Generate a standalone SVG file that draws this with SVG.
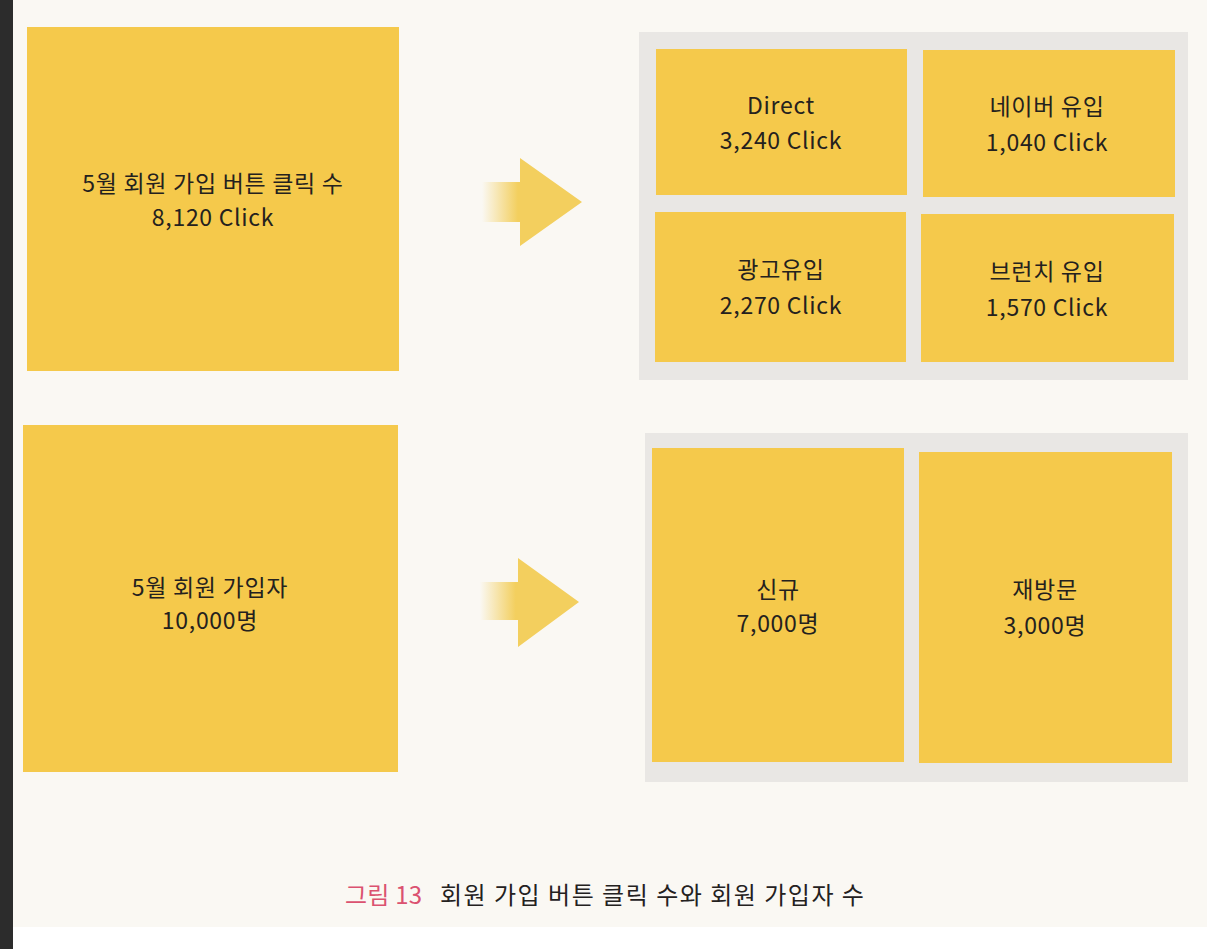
<svg xmlns="http://www.w3.org/2000/svg" width="1207" height="949" viewBox="0 0 1207 949">
  <defs>
    <linearGradient id="arrowGrad" x1="0" y1="0" x2="1" y2="0">
      <stop offset="0" stop-color="#F3CF5E" stop-opacity="0"/>
      <stop offset="0.36" stop-color="#F3CF5E" stop-opacity="1"/>
      <stop offset="1" stop-color="#F3CF5E" stop-opacity="1"/>
    </linearGradient>
    <style>
      .page { fill: #FAF8F3; }
      .frame { fill: #E9E7E4; }
      .box { fill: #F5C94B; }
      .arrow { fill: url(#arrowGrad); }
      .lbl { font-family: "Noto Sans CJK KR", "Noto Sans", sans-serif; font-size: 23px; font-weight: 400; fill: #24211e; text-anchor: middle; letter-spacing: 0.7px; }
      .cap { font-family: "Noto Sans CJK KR", "Noto Sans", sans-serif; font-size: 24px; font-weight: 400; fill: #24211e; letter-spacing: 1.5px; }
      .capnum { fill: #DB5270; letter-spacing: 0.2px; }
    </style>
  </defs>

  <rect x="0" y="0" width="1207" height="949" fill="#FFFFFF"/>
  <rect class="page" x="13" y="0" width="1194" height="927"/>
  <rect x="0" y="0" width="13" height="949" fill="#2C2C2C"/>

  <g id="node-clicks">
    <rect class="box" x="27" y="27" width="372" height="344"/>
    <text class="lbl" x="213" y="192">5월 회원 가입 버튼 클릭 수</text>
    <text class="lbl" x="213" y="226">8,120 Click</text>
  </g>

  <g id="node-signups">
    <rect class="box" x="23" y="425" width="375" height="347"/>
    <text class="lbl" x="210" y="596">5월 회원 가입자</text>
    <text class="lbl" x="210" y="629">10,000명</text>
  </g>

  <g id="frame-clicks">
    <rect class="frame" x="639" y="32" width="549" height="348"/>
  </g>

  <g id="node-direct">
    <rect class="box" x="656" y="49" width="251" height="146"/>
    <text class="lbl" x="781" y="114">Direct</text>
    <text class="lbl" x="781" y="149">3,240 Click</text>
  </g>

  <g id="node-naver">
    <rect class="box" x="923" y="50" width="252" height="147"/>
    <text class="lbl" x="1047" y="115">네이버 유입</text>
    <text class="lbl" x="1047" y="151">1,040 Click</text>
  </g>

  <g id="node-ad">
    <rect class="box" x="655" y="212" width="251" height="150"/>
    <text class="lbl" x="781" y="278">광고유입</text>
    <text class="lbl" x="781" y="314">2,270 Click</text>
  </g>

  <g id="node-brunch">
    <rect class="box" x="921" y="214" width="253" height="148"/>
    <text class="lbl" x="1047" y="280">브런치 유입</text>
    <text class="lbl" x="1047" y="316">1,570 Click</text>
  </g>

  <g id="frame-signups">
    <rect class="frame" x="645" y="433" width="543" height="349"/>
  </g>

  <g id="node-new">
    <rect class="box" x="652" y="448" width="252" height="314"/>
    <text class="lbl" x="778" y="598">신규</text>
    <text class="lbl" x="778" y="632">7,000명</text>
  </g>

  <g id="node-revisit">
    <rect class="box" x="919" y="452" width="253" height="311"/>
    <text class="lbl" x="1045" y="598">재방문</text>
    <text class="lbl" x="1045" y="634">3,000명</text>
  </g>

  <g id="connectors">
    <path class="arrow" d="M482,182 L520,182 L520,158 L582,202 L520,246 L520,222 L482,222 Z"/>
    <path class="arrow" d="M480,582 L518,582 L518,558 L579,602 L518,647 L518,620 L480,620 Z"/>
  </g>

  <g id="caption">
    <text class="cap" x="345" y="904"><tspan class="capnum">그림 13</tspan><tspan x="440">회원 가입 버튼 클릭 수와 회원 가입자 수</tspan></text>
  </g>
</svg>
